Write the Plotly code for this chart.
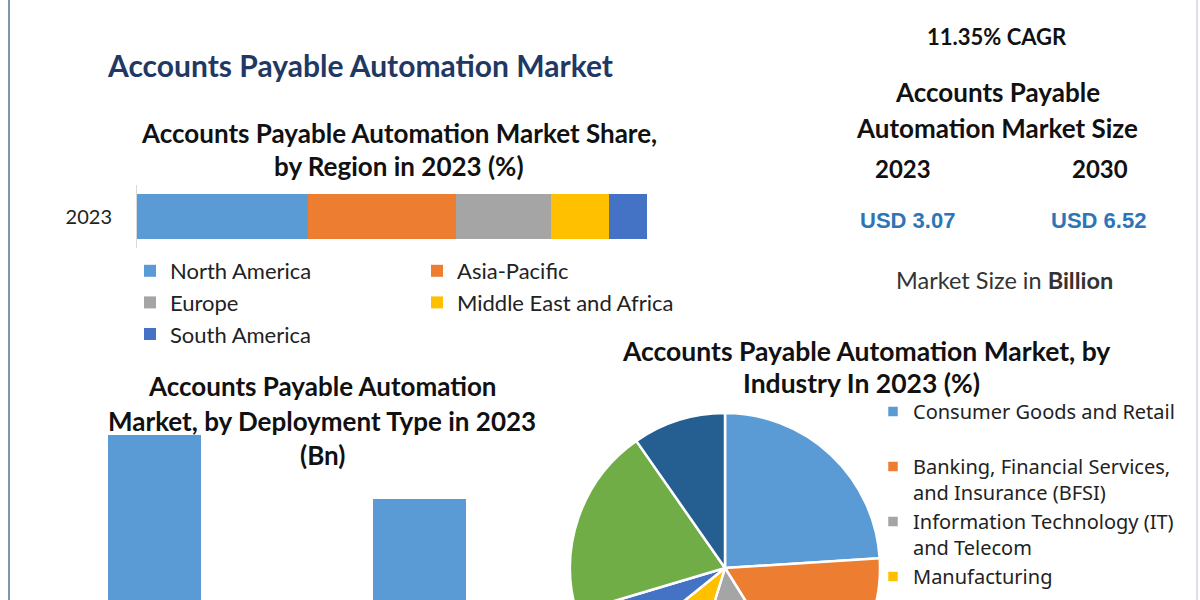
import plotly.graph_objects as go

# ---------------- data ----------------
region_year = ["2023"]
regions = ["North America", "Asia-Pacific", "Europe", "Middle East and Africa", "South America"]
region_share = [33.5, 29.0, 18.6, 11.4, 7.5]
region_colors = ["#5B9BD5", "#ED7D31", "#A5A5A5", "#FFC000", "#4472C4"]
region_legend = ["legend", "legend2", "legend", "legend2", "legend"]

deploy_types = ["Cloud-based", "On-premise"]
deploy_values = [1.78, 1.29]

industries = ["Consumer Goods and Retail<br> ",
              "Banking, Financial Services,<br>and Insurance (BFSI)",
              "Information Technology (IT)<br>and Telecom",
              "Manufacturing<br> ",
              "Healthcare<br> ",
              "Government<br> ",
              "Others<br> "]
industry_share = [24.0, 17.1, 13.7, 9.4, 6.2, 19.9, 9.7]
industry_colors = ["#5B9BD5", "#ED7D31", "#A5A5A5", "#FFC000", "#4472C4", "#70AD47", "#255E91"]

cagr_text = "11.35% CAGR"
size_years = ["2023", "2030"]
size_values = ["USD 3.07", "USD 6.52"]

# ---------------- layout helpers ----------------
W, H = 1200, 760
def px(x):
    return x / W
def py(y):
    return 1 - y / H

FONT = "Lato"
fig = go.Figure()

# stacked horizontal region bar
for name, val, col, lg in zip(regions, region_share, region_colors, region_legend):
    fig.add_trace(go.Bar(
        x=[val], y=region_year, orientation="h", name=name,
        marker=dict(color=col, line=dict(width=0)),
        xaxis="x", yaxis="y", legend=lg, hoverinfo="x+name"))

# deployment bar
fig.add_trace(go.Bar(
    x=deploy_types, y=deploy_values, marker=dict(color="#5B9BD5", line=dict(width=0)),
    xaxis="x2", yaxis="y2", showlegend=False, width=0.35))

# industry pie
fig.add_trace(go.Pie(
    labels=industries, values=industry_share, sort=False, direction="clockwise",
    rotation=0, textinfo="none", hoverinfo="label+percent",
    marker=dict(colors=industry_colors, line=dict(color="white", width=2.5)),
    domain=dict(x=[px(570), px(880)], y=[py(568 + 155), py(568 - 155)]),
    legend="legend3"))

ann = []
def txt(t, x, y, size, color="#111111", bold=True, family=FONT):
    ann.append(dict(text=("<b>%s</b>" % t) if bold else t, x=px(x), y=py(y),
                    xref="paper", yref="paper", showarrow=False,
                    xanchor="center", yanchor="middle",
                    font=dict(size=size, color=color, family=family)))

txt("Accounts Payable Automation Market", 360, 65, 30, color="#1F3864")
txt("Accounts Payable Automation Market Share,", 399, 133, 26)
txt("by Region in 2023 (%)", 399, 166, 26)

txt(cagr_text, 997, 37, 22)
txt("Accounts Payable", 997, 92, 26)
txt("Automation Market Size", 997, 128, 26)
txt(size_years[0], 903, 169, 24)
txt(size_years[1], 1100, 169, 24)
txt(size_values[0], 907, 221, 22, color="#2E75B6", family="Liberation Sans")
txt(size_values[1], 1098, 221, 22, color="#2E75B6", family="Liberation Sans")
ann.append(dict(text="Market Size in <b>Billion</b>", x=px(1004), y=py(280), xref="paper", yref="paper",
                showarrow=False, xanchor="center", yanchor="middle",
                font=dict(size=23.5, color="#333333", family=FONT)))

txt("Accounts Payable Automation", 322, 386, 26)
txt("Market, by Deployment Type in 2023", 322, 421, 26)
txt("(Bn)", 322, 455, 26)

txt("Accounts Payable Automation Market, by", 866, 351, 26.5)
txt("Industry In 2023 (%)", 861, 383, 26.5)

fig.update_layout(
    width=W, height=H, margin=dict(l=0, r=0, t=0, b=0, autoexpand=False),
    paper_bgcolor="white", plot_bgcolor="white",
    barmode="stack", bargap=0.29,
    annotations=ann,
    font=dict(family=FONT, color="#222222"),
    xaxis=dict(domain=[px(137), px(647)], range=[0, 100], visible=False),
    yaxis=dict(domain=[py(248), py(185)], type="category", showline=True,
               linecolor="#D9D9D9", linewidth=1, ticks="outside", ticklen=20,
               tickcolor="rgba(0,0,0,0)", tickfont=dict(size=20, color="#222222", family=FONT),
               showgrid=False, zeroline=False, fixedrange=True),
    xaxis2=dict(domain=[px(22), px(552)], type="category", showgrid=False,
                showline=False, tickfont=dict(size=18, family=FONT), anchor="y2"),
    yaxis2=dict(domain=[py(667.5), py(380.2)], range=[0, 2.2], visible=False, anchor="x2"),
    legend=dict(x=px(130), y=py(250), xanchor="left", yanchor="top", orientation="v",
                traceorder="normal", bgcolor="rgba(0,0,0,0)",
                font=dict(size=22, family=FONT, color="#222222")),
    legend2=dict(x=px(417), y=py(250), xanchor="left", yanchor="top", orientation="v",
                 traceorder="normal", bgcolor="rgba(0,0,0,0)",
                 font=dict(size=22, family=FONT, color="#222222")),
    legend3=dict(x=px(873), y=py(392), xanchor="left", yanchor="top", orientation="v",
                 traceorder="normal", valign="top", bgcolor="rgba(0,0,0,0)",
                 font=dict(size=20, family="Noto Sans", color="#222222")),
    shapes=[
        dict(type="line", xref="paper", yref="paper", x0=px(9), x1=px(9), y0=0, y1=1,
             line=dict(color="#7F97AD", width=2)),
        dict(type="line", xref="paper", yref="paper", x0=px(1197), x1=px(1197), y0=0, y1=1,
             line=dict(color="#B8C4CE", width=1)),
    ],
)

fig.write_html("out.html", post_script=(
    "document.documentElement.style.overflow='hidden';"
    "document.body.style.overflow='hidden';document.body.style.margin='0';"))
